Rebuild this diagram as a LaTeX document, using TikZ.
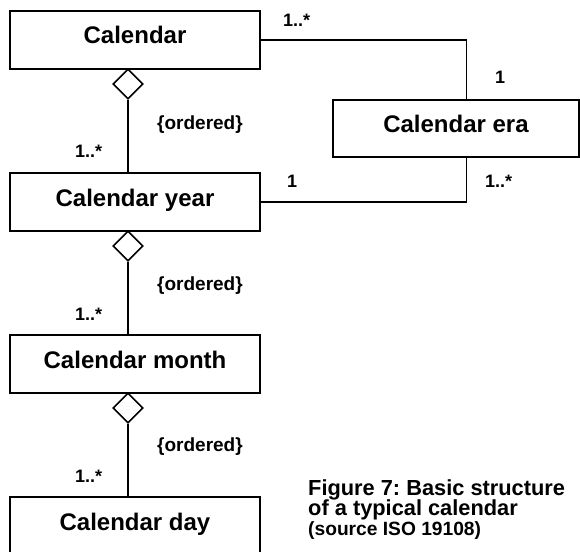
\documentclass[tikz,border=0pt]{standalone}
\usepackage{fontspec}
\setmainfont{Liberation Sans}
\usetikzlibrary{shapes.geometric}
\frenchspacing
\tikzset{
  cls/.style={draw, line width=1.8pt, minimum width=250pt, minimum height=58pt, inner sep=0pt,
    font=\fontsize{24}{28}\selectfont\bfseries, text height=17pt, text depth=9pt},
  agg/.style={draw, line width=1.6pt, shape=diamond, minimum width=30pt, minimum height=30pt, inner sep=0pt, fill=white},
  conn/.style={line width=1.6pt},
  mult/.style={anchor=base west, inner sep=0pt, font=\fontsize{18}{20}\selectfont\bfseries},
  ord/.style={anchor=base west, inner sep=0pt, font=\fontsize{19}{21}\selectfont\bfseries},
  captext/.style={anchor=base west, inner sep=0pt, font=\fontsize{21.8}{24}\selectfont\bfseries},
  captextsmall/.style={anchor=base west, inner sep=0pt, font=\fontsize{19.2}{21}\selectfont\bfseries}
}
\begin{document}
\begin{tikzpicture}[x=1pt,y=-1pt]
\clip (0,0) rectangle (580,551);
\fill[white] (0,0) rectangle (580,551);
\node[cls] (cal) at (135,40) {Calendar};
\node[cls] (year) at (135,202) {Calendar year};
\node[cls] (month) at (135,364) {Calendar month};
\node[cls] (day) at (135,526) {Calendar day};
\node[cls, minimum width=246pt, minimum height=57pt] (era) at (456,128.5) {Calendar era};
% aggregation diamonds
\node[agg] (d1) at (128,84) {};
\node[agg] (d2) at (128,246) {};
\node[agg] (d3) at (128,408) {};
\draw[conn] (d1.south) -- (d1.south |- year.north);
\draw[conn] (d2.south) -- (d2.south |- month.north);
\draw[conn] (d3.south) -- (d3.south |- day.north);
% era associations
\draw[conn] (cal.east) -| ([xshift=10.5pt]era.north);
\draw[conn] (year.east) -| ([xshift=10.5pt]era.south);
% multiplicities
\node[mult] (m1) at (283,27) {1..*};
\node[mult] (m2) at (495,83) {1};
\node[mult] (m3) at (287,187) {1};
\node[mult] (m4) at (485,187) {1..*};
\node[mult] (m5) at (75,157) {1..*};
\node[mult] (m6) at (75,320) {1..*};
\node[mult] (m7) at (75,482) {1..*};
\node[ord] (o1) at (157,129) {\{ordered\}};
\node[ord] (o2) at (157,290) {\{ordered\}};
\node[ord] (o3) at (157,451) {\{ordered\}};
% caption
\node[captext] (c1) at (308,495) {Figure 7: Basic structure};
\node[captext] (c2) at (308,515) {of a typical calendar};
\node[captextsmall] (c3) at (308,535) {(source ISO 19108)};
\end{tikzpicture}
\end{document}
